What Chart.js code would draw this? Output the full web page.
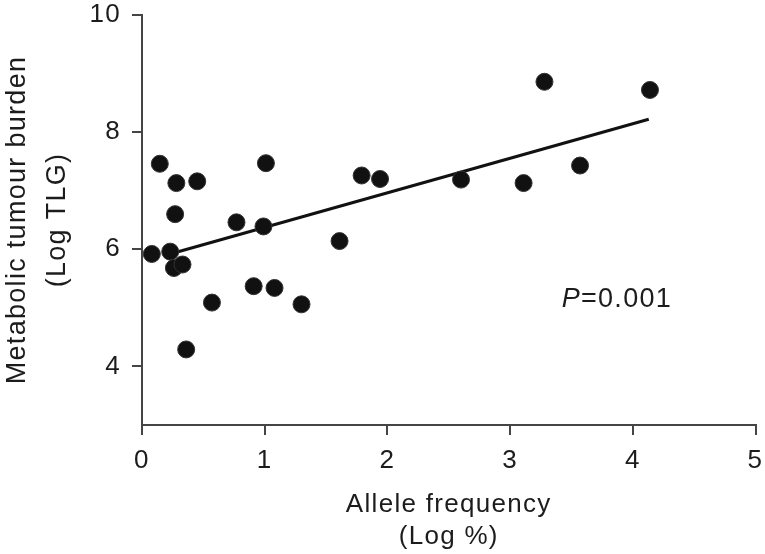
<!DOCTYPE html>
<html>
<head>
<meta charset="utf-8">
<script src="https://cdn.jsdelivr.net/npm/chart.js@4.4.1/dist/chart.umd.min.js"></script>
<style>
  html, body { margin: 0; padding: 0; background: #fff; }
  #wrap { width: 765px; height: 554px; }
</style>
</head>
<body>
<div id="wrap"><canvas id="chart"></canvas></div>
<script>
// --- Data ---
const alleleFreq   = [0.08, 0.145, 0.28, 0.45, 0.27, 0.23, 0.26, 0.33, 0.57, 0.36, 0.77, 0.99, 1.01, 0.91, 1.08, 1.30, 1.61, 1.79, 1.94, 2.60, 3.11, 3.28, 3.57, 4.14];
const tumourBurden = [5.92, 7.46, 7.13, 7.16, 6.60, 5.96, 5.68, 5.74, 5.09, 4.29, 6.46, 6.39, 7.47, 5.37, 5.34, 5.06, 6.14, 7.26, 7.20, 7.19, 7.13, 8.86, 7.43, 8.72];

// regression line end points
const fitX = [0.28, 4.13];
const fitY = [5.95, 8.22];

const xTicks = [0, 1, 2, 3, 4, 5];
const yTicks = [4, 6, 8, 10];

const xTitle = ['Allele frequency', '(Log %)'];
const yTitle = ['Metabolic tumour burden', '(Log TLG)'];
const pLabel = 'P';
const pValueText = '=0.001';
const pAnchor = { x: 3.42, y: 5.15 };

const INK = '#1c1c1c';
const AXIS = '#454545';
const FONT = "'Liberation Sans', Arial, Helvetica, sans-serif";

// --- Plugins ---
// the original lettering runs a little wider than Arial
const spacingPlugin = {
    id: 'spacing',
    beforeInit(chart) { chart.ctx.letterSpacing = '1.3px'; },
    beforeDraw(chart) { chart.ctx.letterSpacing = '1.3px'; }
};

const yTitlePlugin = {
    id: 'yTitle',
    afterDraw(chart) {
        const ctx = chart.ctx;
        const area = chart.chartArea;
        const cy = (area.top + area.bottom) / 2;
        const baselines = [25, 65];
        ctx.save();
        ctx.fillStyle = INK;
        ctx.font = `27px ${FONT}`;
        ctx.textAlign = 'center';
        ctx.textBaseline = 'alphabetic';
        yTitle.forEach((line, i) => {
            ctx.save();
            ctx.translate(baselines[i], cy);
            ctx.rotate(-Math.PI / 2);
            ctx.fillText(line, 0, 0);
            ctx.restore();
        });
        ctx.restore();
    }
};

const pValuePlugin = {
    id: 'pValue',
    afterDraw(chart) {
        const ctx = chart.ctx;
        const x = chart.scales.x.getPixelForValue(pAnchor.x);
        const y = chart.scales.y.getPixelForValue(pAnchor.y);
        ctx.save();
        ctx.fillStyle = INK;
        ctx.textBaseline = 'middle';
        ctx.textAlign = 'left';
        ctx.font = `italic 27px ${FONT}`;
        ctx.fillText(pLabel, x, y);
        const w = ctx.measureText(pLabel).width;
        ctx.font = `27px ${FONT}`;
        ctx.fillText(pValueText, x + w, y);
        ctx.restore();
    }
};

// --- Chart ---
const points = alleleFreq.map((v, i) => ({ x: v, y: tumourBurden[i] }));
const fitLine = fitX.map((v, i) => ({ x: v, y: fitY[i] }));

new Chart(document.getElementById('chart'), {
    type: 'scatter',
    data: {
        datasets: [
            {
                label: 'Patients',
                data: points,
                backgroundColor: '#111',
                borderColor: '#333',
                borderWidth: 1,
                pointRadius: 8.5,
                pointHoverRadius: 8.5
            },
            {
                label: 'Fit',
                type: 'line',
                data: fitLine,
                borderColor: '#111',
                borderWidth: 3,
                pointRadius: 0,
                fill: false,
                tension: 0
            }
        ]
    },
    options: {
        responsive: true,
        maintainAspectRatio: false,
        animation: false,
        layout: { padding: { top: 15, right: 8, bottom: 1, left: 0 } },
        plugins: {
            legend: { display: false },
            tooltip: { enabled: false }
        },
        scales: {
            x: {
                type: 'linear',
                min: 0,
                max: 5,
                afterBuildTicks: s => { s.ticks = xTicks.map(v => ({ value: v })); },
                afterFit: s => { s.height = 128; s.paddingLeft = 0; s.paddingRight = 0; },
                grid: { drawOnChartArea: false, drawTicks: true, tickLength: 10, color: AXIS, lineWidth: 2 },
                border: { display: true, color: AXIS, width: 2 },
                ticks: { color: INK, font: { size: 26, family: FONT }, padding: 10, maxRotation: 0 },
                title: {
                    display: true,
                    text: xTitle,
                    color: INK,
                    font: { size: 26, family: FONT, lineHeight: 1.23 },
                    padding: { top: 0, bottom: 0 }
                }
            },
            y: {
                type: 'linear',
                min: 3,
                max: 10,
                afterBuildTicks: s => { s.ticks = yTicks.map(v => ({ value: v })); },
                afterFit: s => { s.width = 142; s.paddingTop = 0; s.paddingBottom = 0; },
                grid: { drawOnChartArea: false, drawTicks: true, tickLength: 10, color: AXIS, lineWidth: 2 },
                border: { display: true, color: AXIS, width: 2 },
                ticks: { color: INK, font: { size: 26, family: FONT }, padding: 11 }
            }
        }
    },
    plugins: [spacingPlugin, yTitlePlugin, pValuePlugin]
});
</script>
</body>
</html>
